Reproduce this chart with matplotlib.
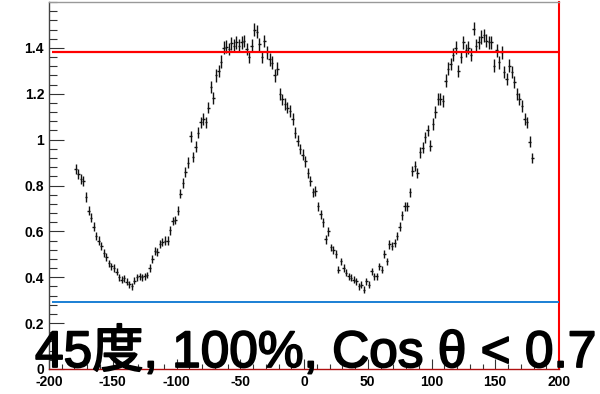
import numpy as np
import matplotlib
matplotlib.use("Agg")
import matplotlib.pyplot as plt
import matplotlib.patheffects as pe
from matplotlib.ticker import MultipleLocator, FixedLocator

# bin centres (2-degree bins)
x_vals = np.arange(-179, 180, 2)

y_vals = [
    0.87, 0.85, 0.83, 0.82, 0.75, 0.69, 0.66, 0.62, 0.58, 0.56,
    0.535, 0.505, 0.49, 0.46, 0.447, 0.44, 0.425, 0.40, 0.39, 0.395,
    0.38, 0.37, 0.36, 0.385, 0.40, 0.405, 0.40, 0.405, 0.41, 0.44,
    0.48, 0.515, 0.51, 0.545, 0.555, 0.56, 0.56, 0.605, 0.645, 0.65,
    0.69, 0.765, 0.81, 0.86, 0.90, 1.015, 0.925, 0.97, 1.03, 1.075,
    1.09, 1.075, 1.14, 1.23, 1.18, 1.28, 1.30, 1.34, 1.40, 1.405,
    1.395, 1.42, 1.41, 1.425, 1.41, 1.425, 1.43, 1.395, 1.36, 1.41,
    1.48, 1.47, 1.415, 1.36, 1.43, 1.38, 1.35, 1.335, 1.28, 1.31,
    1.20, 1.175, 1.155, 1.14, 1.125, 1.09, 1.03, 0.995, 0.96, 0.935,
    0.905, 0.855, 0.82, 0.77, 0.775, 0.71, 0.675, 0.64, 0.565, 0.60,
    0.53, 0.52, 0.50, 0.433, 0.47, 0.44, 0.42, 0.405, 0.397, 0.39,
    0.382, 0.36, 0.368, 0.346, 0.382, 0.368, 0.426, 0.404, 0.405, 0.448,
    0.433, 0.50, 0.47, 0.543, 0.535, 0.55, 0.58, 0.62, 0.67, 0.71,
    0.71, 0.77, 0.863, 0.885, 0.856, 0.944, 0.965, 1.01, 1.04, 0.973,
    1.068, 1.12, 1.177, 1.177, 1.17, 1.257, 1.31, 1.33, 1.37, 1.40,
    1.30, 1.36, 1.425, 1.39, 1.40, 1.37, 1.484, 1.41, 1.425, 1.447,
    1.455, 1.432, 1.425, 1.425, 1.323, 1.39, 1.338, 1.38, 1.294, 1.265,
    1.323, 1.294, 1.25, 1.20, 1.177, 1.148, 1.09, 1.075, 0.99, 0.92,
]

y_errs = [
    0.022, 0.022, 0.022, 0.021, 0.021, 0.020, 0.019, 0.019, 0.018, 0.018,
    0.018, 0.017, 0.017, 0.016, 0.016, 0.016, 0.016, 0.015, 0.015, 0.015,
    0.015, 0.015, 0.014, 0.015, 0.015, 0.015, 0.015, 0.015, 0.015, 0.016,
    0.016, 0.017, 0.017, 0.018, 0.018, 0.018, 0.018, 0.019, 0.019, 0.019,
    0.020, 0.021, 0.021, 0.022, 0.023, 0.024, 0.023, 0.023, 0.024, 0.025,
    0.025, 0.025, 0.026, 0.026, 0.026, 0.027, 0.027, 0.028, 0.028, 0.028,
    0.028, 0.028, 0.028, 0.028, 0.028, 0.028, 0.028, 0.028, 0.028, 0.028,
    0.029, 0.029, 0.028, 0.028, 0.028, 0.028, 0.028, 0.028, 0.027, 0.027,
    0.026, 0.026, 0.026, 0.025, 0.025, 0.025, 0.024, 0.024, 0.023, 0.023,
    0.023, 0.022, 0.021, 0.021, 0.021, 0.020, 0.020, 0.019, 0.018, 0.019,
    0.017, 0.017, 0.017, 0.016, 0.016, 0.016, 0.015, 0.015, 0.015, 0.015,
    0.015, 0.014, 0.014, 0.014, 0.015, 0.014, 0.016, 0.015, 0.015, 0.016,
    0.016, 0.017, 0.016, 0.018, 0.017, 0.018, 0.018, 0.019, 0.020, 0.020,
    0.020, 0.021, 0.022, 0.023, 0.022, 0.023, 0.023, 0.024, 0.024, 0.024,
    0.025, 0.025, 0.026, 0.026, 0.026, 0.027, 0.027, 0.027, 0.028, 0.028,
    0.027, 0.028, 0.028, 0.028, 0.028, 0.028, 0.029, 0.028, 0.028, 0.029,
    0.029, 0.029, 0.028, 0.028, 0.027, 0.028, 0.028, 0.028, 0.027, 0.027,
    0.027, 0.027, 0.027, 0.026, 0.026, 0.026, 0.025, 0.025, 0.024, 0.023,
]

bin_half_width = 1.0
upper_level = 1.381
lower_level = 0.29
x_ticks = [-200, -150, -100, -50, 0, 50, 100, 150, 200]
y_ticks = [0, 0.2, 0.4, 0.6, 0.8, 1.0, 1.2, 1.4]
title_text = "45度, 100%, Cos θ < 0.7"

plt.rcParams['font.family'] = ['Liberation Sans', 'DejaVu Sans']

fig = plt.figure(figsize=(6.0, 3.94), dpi=100)
ax = fig.add_axes([49 / 600, 25 / 394, 510 / 600, 367 / 394])
ax.set_xlim(-200, 200)
ax.set_ylim(0, 1.6)

ax.errorbar(x_vals, y_vals, yerr=y_errs, xerr=bin_half_width, fmt='none',
            ecolor='#111111', elinewidth=1.0, capsize=0, zorder=3)

ax.hlines(upper_level, -197.5, 200, colors='#ff0000', linewidth=1.6, zorder=4)
ax.hlines(lower_level, -197.5, 200, colors='#1a7fd4', linewidth=1.4, zorder=4)

# spines
ax.spines['left'].set_color('#444444')
ax.spines['left'].set_linewidth(1.0)
ax.spines['top'].set_color('#999999')
ax.spines['top'].set_linewidth(1.0)
ax.spines['bottom'].set_color('#b01010')
ax.spines['bottom'].set_linewidth(1.0)
ax.spines['right'].set_color('#ff0000')
ax.spines['right'].set_linewidth(1.5)

ax.xaxis.set_major_locator(FixedLocator(x_ticks))
ax.xaxis.set_minor_locator(MultipleLocator(10))
ax.yaxis.set_major_locator(FixedLocator(y_ticks))
ax.yaxis.set_minor_locator(MultipleLocator(0.04))

ax.xaxis.set_tick_params(which='major', direction='in', length=7.2, width=0.8,
                         color='#333333', pad=4, top=False)
ax.xaxis.set_tick_params(which='minor', direction='in', length=3.6, width=0.8,
                         color='#333333', top=False)
ax.yaxis.set_tick_params(which='major', direction='in', length=10.8, width=0.8,
                         color='#333333', pad=3.6, right=False)
ax.yaxis.set_tick_params(which='minor', direction='in', length=5.5, width=0.8,
                         color='#333333', right=False)

ax.set_xticklabels([str(t) for t in x_ticks], fontsize=10, fontweight='bold')
ax.set_yticklabels(['%g' % t for t in y_ticks], fontsize=10, fontweight='bold')

fig.text(35 / 600, (394 - 367) / 394, title_text, fontsize=37,
         fontweight='normal', ha='left', va='baseline', color='black',
         family=['Liberation Sans', 'Noto Sans CJK JP', 'DejaVu Sans'],
         path_effects=[pe.withStroke(linewidth=1.3, foreground='black')],
         zorder=10)

fig.savefig('out.png', dpi=100)
